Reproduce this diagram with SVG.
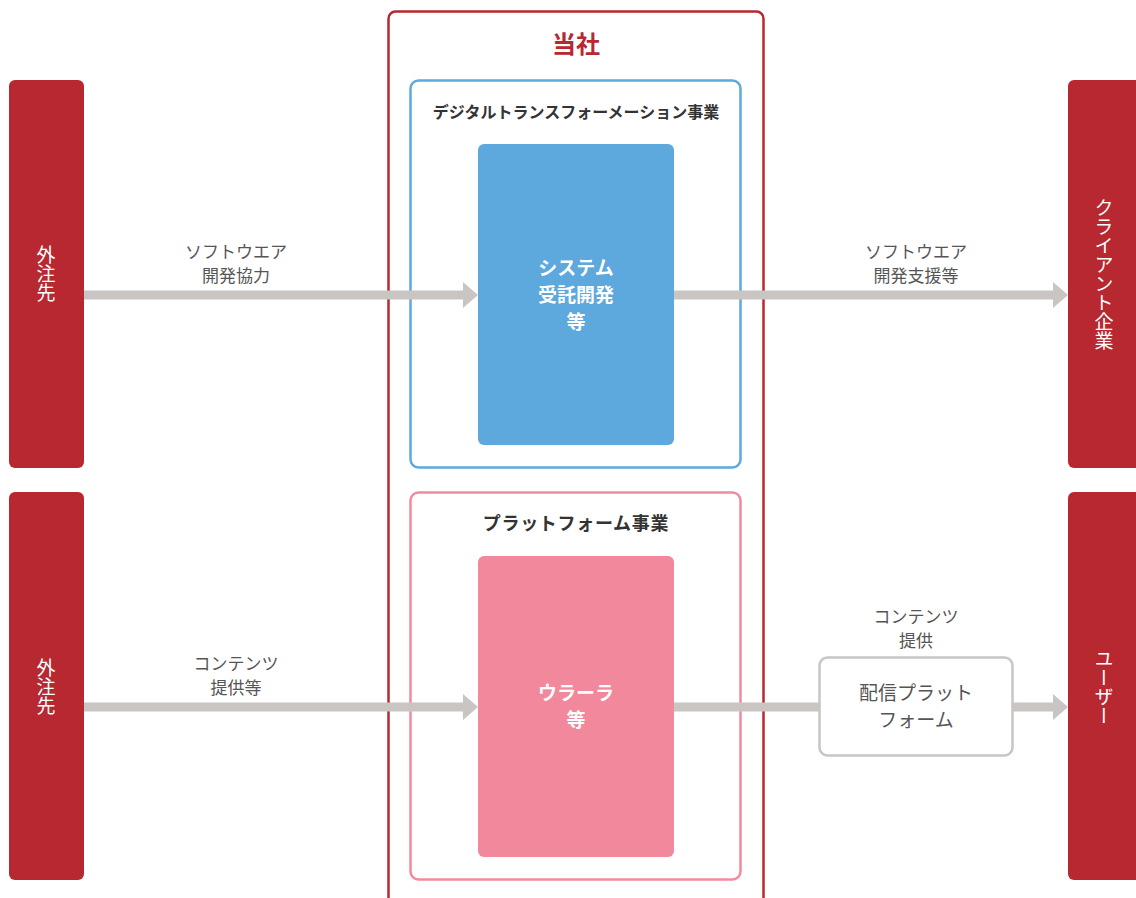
<svg xmlns="http://www.w3.org/2000/svg" width="1136" height="898" viewBox="0 0 1136 898">
<defs>
<style>
.ext{fill:#b72830;}
.vt{font-family:"Noto Sans CJK JP","Noto Sans",sans-serif;font-size:19px;fill:#ffffff;writing-mode:vertical-rl;text-anchor:middle;}
.lbl{font-family:"Noto Sans CJK JP","Noto Sans",sans-serif;font-size:17px;fill:#555555;text-anchor:middle;}
.ttl{font-family:"Noto Sans CJK JP","Noto Sans",sans-serif;font-size:16px;font-weight:bold;fill:#333333;text-anchor:middle;}
.ttl2{font-family:"Noto Sans CJK JP","Noto Sans",sans-serif;font-size:18px;letter-spacing:0.7px;font-weight:bold;fill:#333333;text-anchor:middle;}
.inn{font-family:"Noto Sans CJK JP","Noto Sans",sans-serif;font-size:19px;font-weight:bold;fill:#ffffff;text-anchor:middle;}
.shaft{stroke:#c8c5c2;stroke-width:9;fill:none;}
.head{fill:#c8c5c2;}
</style>
</defs>
<rect width="1136" height="898" fill="#ffffff"/>

<g id="company">
<rect x="388.5" y="11.5" width="375" height="920" rx="7" fill="none" stroke="#b72830" stroke-width="2.5"/>
<text x="576" y="53" font-family="'Noto Sans CJK JP','Noto Sans',sans-serif" font-size="24" font-weight="bold" fill="#b72830" text-anchor="middle">当社</text>
</g>

<g id="dx-business">
<rect x="410.5" y="80.5" width="330" height="387" rx="8" fill="none" stroke="#5ea9dd" stroke-width="2.5"/>
<text class="ttl" x="576" y="118">デジタルトランスフォーメーション事業</text>
</g>

<g id="platform-business">
<rect x="410.5" y="492.5" width="330" height="387" rx="8" fill="none" stroke="#f28b9e" stroke-width="2.5"/>
<text class="ttl2" x="576" y="530">プラットフォーム事業</text>
</g>

<g id="connectors">
<line class="shaft" x1="84" y1="295" x2="465" y2="295"/>
<polygon class="head" points="463,282 478,295 463,308"/>
<line class="shaft" x1="674" y1="295" x2="1055" y2="295"/>
<polygon class="head" points="1053,282 1068,295 1053,308"/>
<line class="shaft" x1="84" y1="707" x2="465" y2="707"/>
<polygon class="head" points="463,694 478,707 463,720"/>
<line class="shaft" x1="674" y1="707" x2="820" y2="707"/>
<line class="shaft" x1="1012" y1="707" x2="1055" y2="707"/>
<polygon class="head" points="1053,694 1068,707 1053,720"/>
<text class="lbl" x="236" y="258">ソフトウエア</text>
<text class="lbl" x="236" y="282">開発協力</text>
<text class="lbl" x="916" y="258">ソフトウエア</text>
<text class="lbl" x="916" y="282">開発支援等</text>
<text class="lbl" x="236" y="670">コンテンツ</text>
<text class="lbl" x="236" y="694">提供等</text>
<text class="lbl" x="916" y="623">コンテンツ</text>
<text class="lbl" x="916" y="647">提供</text>
</g>

<g id="system-dev">
<rect x="478" y="144" width="196" height="301" rx="6" fill="#5da8dc"/>
<text class="inn" x="576" y="275">システム</text>
<text class="inn" x="576" y="302">受託開発</text>
<text class="inn" x="576" y="329">等</text>
</g>

<g id="uralala">
<rect x="478" y="556" width="196" height="301" rx="6" fill="#f2889b"/>
<text class="inn" x="576" y="700">ウラーラ</text>
<text class="inn" x="576" y="727">等</text>
</g>

<g id="distribution-platform">
<rect x="819.5" y="657.5" width="193" height="98" rx="8" fill="#ffffff" stroke="#c8c5c2" stroke-width="2.5"/>
<text x="916" y="700" font-family="'Noto Sans CJK JP','Noto Sans',sans-serif" font-size="19" fill="#555555" text-anchor="middle">配信プラット</text>
<text x="916" y="727" font-family="'Noto Sans CJK JP','Noto Sans',sans-serif" font-size="19" fill="#555555" text-anchor="middle">フォーム</text>
</g>

<g id="outsource-1">
<rect class="ext" x="9" y="80" width="75" height="388" rx="6"/>
<text class="vt" x="46" y="274">外注先</text>
</g>

<g id="outsource-2">
<rect class="ext" x="9" y="492" width="75" height="388" rx="6"/>
<text class="vt" x="46" y="687">外注先</text>
</g>

<g id="client">
<rect class="ext" x="1068" y="80" width="80" height="388" rx="6"/>
<text class="vt" x="1104" y="274">クライアント企業</text>
</g>

<g id="user">
<rect class="ext" x="1068" y="492" width="80" height="388" rx="6"/>
<text class="vt" x="1104" y="687">ユーザー</text>
</g>
</svg>
